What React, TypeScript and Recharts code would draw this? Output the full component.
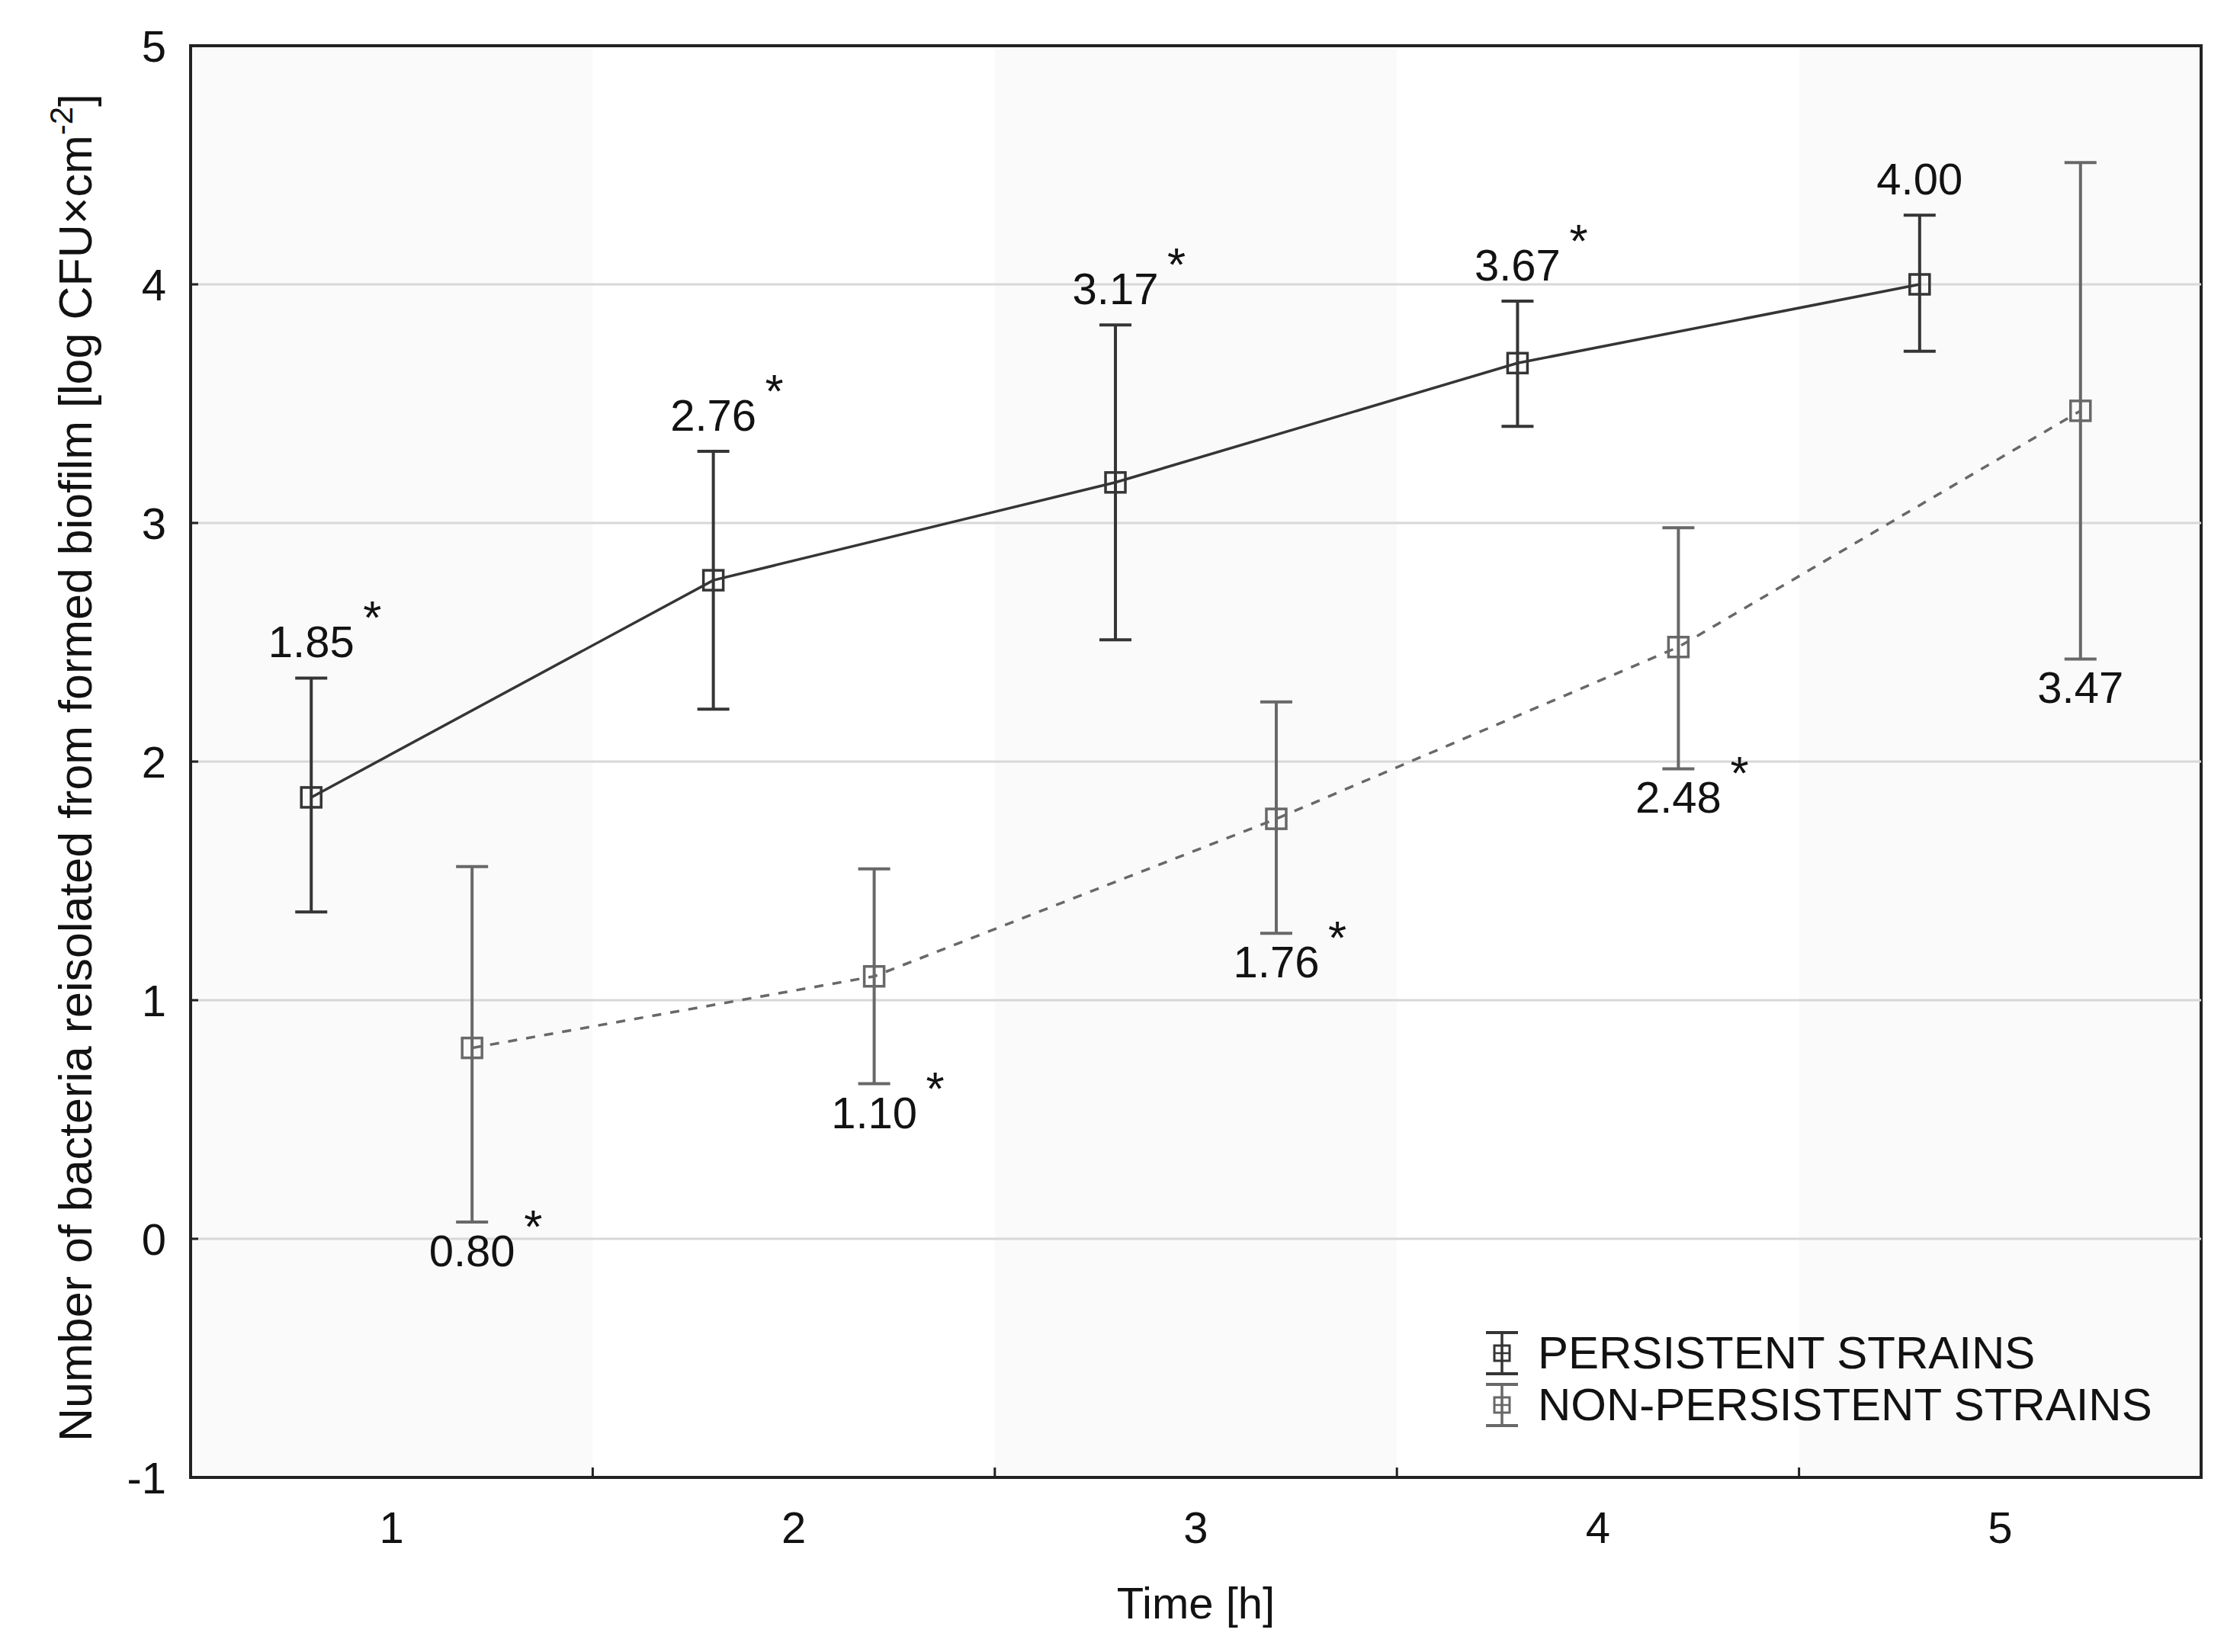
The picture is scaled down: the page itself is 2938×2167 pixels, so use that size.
import {
  ErrorBar,
  LabelList,
  Legend,
  Line,
  LineChart,
  ReferenceArea,
  ReferenceLine,
  XAxis,
  YAxis,
} from "recharts";

const times = [1, 2, 3, 4, 5];
const persistentMean = [1.85, 2.76, 3.17, 3.67, 4.0];
const persistentLow = [0.48, 0.54, 0.66, 0.265, 0.28];
const persistentHigh = [0.5, 0.54, 0.66, 0.26, 0.29];
const persistentStar = [true, true, true, true, false];
const nonPersistentMean = [0.8, 1.1, 1.76, 2.48, 3.47];
const nonPersistentLow = [0.73, 0.45, 0.48, 0.51, 1.04];
const nonPersistentHigh = [0.76, 0.45, 0.49, 0.5, 1.04];
const nonPersistentStar = [true, true, true, true, false];
const yTicks = [-1, 0, 1, 2, 3, 4, 5];
const gridValues = [0, 1, 2, 3, 4];
const xTicks = [1, 1.5, 2, 2.5, 3, 3.5, 4, 4.5, 5];
const shadedBands = [1, 3, 5];
const seriesNames = ["PERSISTENT STRAINS", "NON-PERSISTENT STRAINS"];

const DODGE = 0.2;
const FONT = "'Liberation Sans', Arial, sans-serif";
const FS = 58;
const DARK = "#353535";
const GREY = "#686868";
const TEXT = "#121212";

const persistent = times.map((t, i) => ({
  x: t - DODGE,
  mean: persistentMean[i],
  err: [persistentLow[i], persistentHigh[i]],
  cap: persistentMean[i] + persistentHigh[i],
  star: persistentStar[i],
}));

const nonPersistent = times.map((t, i) => ({
  x: t + DODGE,
  mean: nonPersistentMean[i],
  err: [nonPersistentLow[i], nonPersistentHigh[i]],
  cap: nonPersistentMean[i] - nonPersistentLow[i],
  star: nonPersistentStar[i],
}));

const squareDot = (color: string) => (p: any) => (
  <rect
    key={`d-${p.index}`}
    x={p.cx - 13}
    y={p.cy - 13}
    width={26}
    height={26}
    fill="none"
    stroke={color}
    strokeWidth={3.5}
  />
);

const valueLabel = (rows: typeof persistent, dy: number) => (p: any) => {
  const row = rows[p.index];
  return (
    <g key={`l-${p.index}`} fontFamily={FONT} fontSize={FS} fill={TEXT}>
      <text x={p.x} y={p.y + dy} textAnchor="middle">
        {row.mean.toFixed(2)}
      </text>
      {row.star && (
        <text x={p.x + 68} y={p.y + dy - 31} fontSize={62}>
          *
        </text>
      )}
    </g>
  );
};

const YTick = (p: any) => (
  <g>
    <line x1={p.x} y1={p.y} x2={p.x + 10} y2={p.y} stroke="#222" strokeWidth={3} />
    <text x={p.x - 32} y={p.y + 21} textAnchor="end" fontFamily={FONT} fontSize={FS} fill={TEXT}>
      {p.payload.value}
    </text>
  </g>
);

const XTick = (p: any) => {
  const v = p.payload.value;
  if (!Number.isInteger(v)) {
    return <line x1={p.x} y1={p.y} x2={p.x} y2={p.y - 13} stroke="#222" strokeWidth={3} />;
  }
  return (
    <text x={p.x} y={p.y + 86} textAnchor="middle" fontFamily={FONT} fontSize={FS} fill={TEXT}>
      {v}
    </text>
  );
};

const LegendIcon = ({ color }: { color: string }) => (
  <svg width={50} height={60} style={{ display: "block" }}>
    <line x1={25} y1={3} x2={25} y2={57} stroke={color} strokeWidth={3.5} />
    <line x1={4} y1={3} x2={46} y2={3} stroke={color} strokeWidth={4} />
    <line x1={4} y1={57} x2={46} y2={57} stroke={color} strokeWidth={4} />
    <rect x={15} y={20} width={20} height={20} fill="none" stroke={color} strokeWidth={3} />
    <line x1={15} y1={30} x2={35} y2={30} stroke={color} strokeWidth={2.5} />
  </svg>
);

const LegendBox = () => (
  <div style={{ fontFamily: FONT, fontSize: 60, color: TEXT, lineHeight: "68px" }}>
    {seriesNames.map((name, i) => (
      <div key={name} style={{ display: "flex", alignItems: "center", height: 68 }}>
        <LegendIcon color={i === 0 ? DARK : GREY} />
        <span style={{ marginLeft: 22, whiteSpace: "nowrap" }}>{name}</span>
      </div>
    ))}
  </div>
);

export default function App() {
  return (
    <div style={{ position: "relative", fontFamily: FONT }}>
      <LineChart width={2922} height={2150} margin={{ top: 52, right: 43, bottom: 0, left: 0 }}>
        <XAxis
          type="number"
          dataKey="x"
          domain={[0.5, 5.5]}
          ticks={xTicks}
          allowDataOverflow
          height={220}
          tickSize={0}
          tickMargin={0}
          tickLine={false}
          axisLine={{ stroke: "#222", strokeWidth: 4 }}
          tick={XTick}
          interval={0}
          label={{
            content: (p: any) => (
              <text
                x={p.viewBox.x + p.viewBox.width / 2}
                y={p.viewBox.y + 185}
                textAnchor="middle"
                fontFamily={FONT}
                fontSize={FS}
                fill={TEXT}
              >
                Time [h]
              </text>
            ),
          }}
        />
        <YAxis
          type="number"
          domain={[-1, 5]}
          ticks={yTicks}
          allowDataOverflow
          width={242}
          tickSize={0}
          tickMargin={0}
          tickLine={false}
          axisLine={{ stroke: "#222", strokeWidth: 4 }}
          tick={YTick}
          interval={0}
          label={{
            content: (p: any) => {
              const cx = 112;
              const cy = p.viewBox.y + p.viewBox.height / 2 + 8;
              return (
                <text
                  x={cx}
                  y={cy}
                  transform={`rotate(-90, ${cx}, ${cy})`}
                  textAnchor="middle"
                  fontFamily={FONT}
                  fontSize={61}
                  fill={TEXT}
                >
                  Number of bacteria reisolated from formed biofilm [log CFU×cm
                  <tspan dy={-25} fontSize={42}>-2</tspan>
                  <tspan dy={25}>]</tspan>
                </text>
              );
            },
          }}
        />
        {shadedBands.map((b) => (
          <ReferenceArea
            key={`band-${b}`}
            x1={b - 0.5}
            x2={b + 0.5}
            y1={-1}
            y2={5}
            fill="#fafafa"
            fillOpacity={1}
            stroke="none"
          />
        ))}
        {gridValues.map((v) => (
          <ReferenceLine key={`g-${v}`} y={v} stroke="#d8d8d8" strokeWidth={3} />
        ))}
        <ReferenceArea x1={0.5} x2={5.5} y1={-1} y2={5} fill="none" stroke="#222" strokeWidth={4} />
        <Line
          data={persistent}
          dataKey="mean"
          name={seriesNames[0]}
          stroke={DARK}
          strokeWidth={3.5}
          dot={squareDot(DARK)}
          activeDot={false}
          isAnimationActive={false}
        >
          <ErrorBar dataKey="err" direction="y" width={21} stroke={DARK} strokeWidth={4} />
        </Line>
        <Line
          data={nonPersistent}
          dataKey="mean"
          name={seriesNames[1]}
          stroke={GREY}
          strokeWidth={3.5}
          strokeDasharray="12 12"
          dot={squareDot(GREY)}
          activeDot={false}
          isAnimationActive={false}
        >
          <ErrorBar dataKey="err" direction="y" width={21} stroke={GREY} strokeWidth={4} />
        </Line>
        <Line
          data={persistent}
          dataKey="cap"
          stroke="none"
          dot={false}
          activeDot={false}
          legendType="none"
          isAnimationActive={false}
        >
          <LabelList dataKey="mean" content={valueLabel(persistent, -27)} />
        </Line>
        <Line
          data={nonPersistent}
          dataKey="cap"
          stroke="none"
          dot={false}
          activeDot={false}
          legendType="none"
          isAnimationActive={false}
        >
          <LabelList dataKey="mean" content={valueLabel(nonPersistent, 58)} />
        </Line>
        <Legend
          layout="vertical"
          align="center"
          verticalAlign="middle"
          wrapperStyle={{ position: "absolute", left: 1937, top: 1733, width: 950, height: 136 }}
          content={() => <LegendBox />}
        />
      </LineChart>
    </div>
  );
}
